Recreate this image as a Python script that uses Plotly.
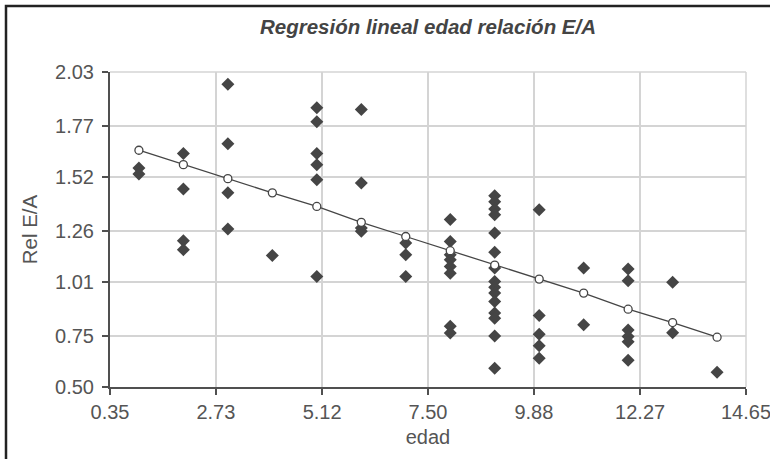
import plotly.graph_objects as go

# Observed data (edad, Rel E/A)
edad = ([1]*2 + [2]*4 + [3]*4 + [4]*1 + [5]*6 + [6]*4 + [7]*3 + [8]*8 +
        [9]*15 + [10]*5 + [11]*2 + [12]*6 + [13]*2 + [14]*1)
rel_ea = [1.564, 1.535,
          1.634, 1.462, 1.210, 1.167,
          1.970, 1.681, 1.443, 1.267,
          1.139,
          1.856, 1.788, 1.634, 1.580, 1.507, 1.037,
          1.848, 1.491, 1.272, 1.256,
          1.199, 1.142, 1.037,
          1.313, 1.207, 1.142, 1.118, 1.085, 1.053, 0.795, 0.762,
          1.429, 1.400, 1.365, 1.337, 1.248, 1.155, 1.078, 1.012, 0.985, 0.956,
          0.915, 0.859, 0.834, 0.748, 0.591,
          1.361, 0.847, 0.756, 0.700, 0.640,
          1.078, 0.802,
          1.073, 1.016, 0.777, 0.745, 0.720, 0.630,
          1.009, 0.764,
          0.572]

# Regression (fitted) values
fit_x = [1, 2, 3, 4, 5, 6, 7, 8, 9, 10, 11, 12, 13, 14]
fit_y = [1.650, 1.580, 1.512, 1.443, 1.377, 1.300, 1.231, 1.162, 1.092,
         1.024, 0.956, 0.878, 0.813, 0.742]

x_ticks = [0.35, 2.73, 5.12, 7.50, 9.88, 12.27, 14.65]
y_ticks = [0.50, 0.75, 1.01, 1.26, 1.52, 1.77, 2.03]

title_text = "<b><i>Regresión lineal edad relación E/A</i></b>"
x_title = "edad"
y_title = "Rel E/A"

dark = "#454545"
txt = "#555555"
grid = "#d4d4d4"
fam = "Liberation Sans, Arial, sans-serif"

L, R, T, B = 110, 24, 72, 72
W, H = 770, 459
pw, ph = W - L - R, H - T - B

fig = go.Figure()
fig.add_trace(go.Scatter(
    x=edad, y=rel_ea, mode="markers",
    marker=dict(symbol="diamond", size=10, color=dark, line=dict(width=0)),
    showlegend=False, cliponaxis=False))
fig.add_trace(go.Scatter(
    x=fit_x, y=fit_y, mode="lines+markers",
    line=dict(color=dark, width=1.3),
    marker=dict(symbol="circle", size=8, color="white",
                line=dict(color=dark, width=1.3)),
    showlegend=False, cliponaxis=False))

fig.update_layout(
    width=W, height=H,
    margin=dict(l=L, r=R, t=T, b=B, autoexpand=False),
    paper_bgcolor="white", plot_bgcolor="white",
    font=dict(family=fam, size=20, color=txt),
    title=dict(text=title_text, x=(L + pw / 2) / W, xanchor="center",
               y=1 - 27 / H, yanchor="middle",
               font=dict(family=fam, size=20.5, color="#444444")),
    xaxis=dict(range=[0.35, 14.65], tickvals=x_ticks,
               ticktext=[f"{v:.2f}" for v in x_ticks],
               showgrid=True, gridcolor=grid, gridwidth=1.5,
               showline=True, linecolor="#505050", linewidth=2,
               ticks="outside", ticklen=6, tickcolor="#505050", tickwidth=1.5,
               ticklabeloverflow="allow",
               zeroline=False, automargin=False,
               title=dict(text=x_title, standoff=8, font=dict(size=20, color=txt))),
    yaxis=dict(range=[0.50, 2.03], tickvals=y_ticks,
               ticktext=[f"{v:.2f}" for v in y_ticks],
               showgrid=True, gridcolor=grid, gridwidth=1.5,
               showline=True, linecolor="#505050", linewidth=2,
               ticks="outside", ticklen=6, tickcolor="#505050", tickwidth=1.5,
               ticklabelstandoff=4, ticklabeloverflow="allow",
               zeroline=False, automargin=False,
               title=dict(text=y_title, standoff=12, font=dict(size=20.5, color=txt))),
    shapes=[
        dict(type="line", xref="paper", yref="paper", x0=0, x1=1, y0=1, y1=1,
             line=dict(color=grid, width=1.5)),
        dict(type="line", xref="paper", yref="paper", x0=1, x1=1, y0=0, y1=1,
             line=dict(color=grid, width=1.5)),
        dict(type="rect", xref="paper", yref="paper",
             x0=(6 - L) / pw, x1=1.2, y0=-0.4, y1=1 + (T - 6) / ph,
             line=dict(color="#222222", width=2.5), layer="below"),
    ],
)

fig.write_html("out.html", config={"displayModeBar": False},
               post_script="document.body.style.margin='0';document.body.style.overflow='hidden';")
